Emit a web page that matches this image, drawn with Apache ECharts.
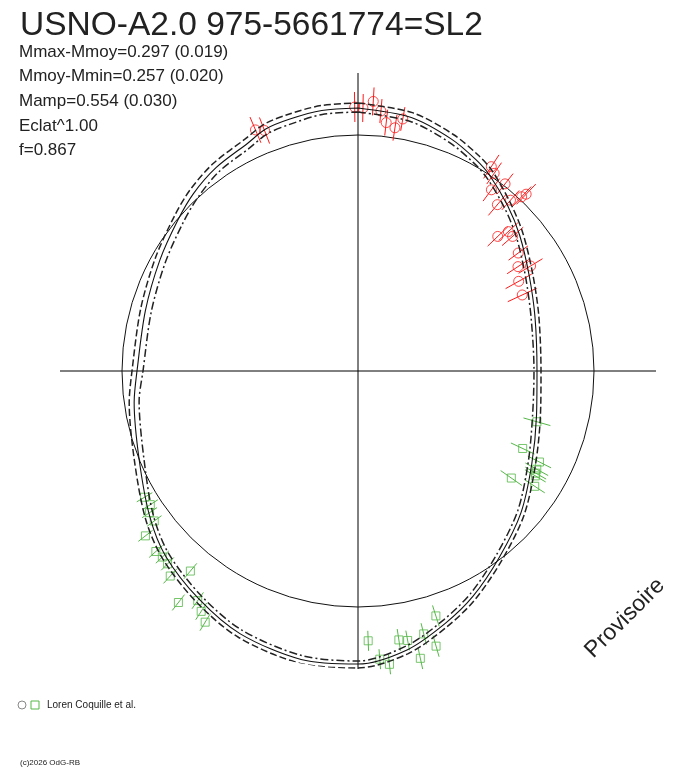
<!DOCTYPE html>
<html>
<head>
<meta charset="utf-8">
<title>USNO-A2.0 975-5661774=SL2</title>
<script src="https://cdn.jsdelivr.net/npm/echarts@6/dist/echarts.min.js"></script>
<style>
	html, body {margin: 0; padding: 0; background: #fff;}
	#chart {width: 688px; height: 768px;}
</style>
</head>
<body>
<div id="chart"></div>
<script>
// phase (0..1, clockwise from top) and radius
const curvePhase = [0.000, 0.033, 0.061, 0.081, 0.094, 0.117, 0.139, 0.169, 0.203, 0.250, 0.289, 0.328,
	0.364, 0.397, 0.425, 0.447, 0.472, 0.500, 0.531, 0.567, 0.597, 0.628, 0.653, 0.689, 0.728, 0.750,
	0.794, 0.831, 0.861, 0.881, 0.903, 0.928, 0.942, 0.958, 0.978];
const curveMid = [263, 259, 250, 242, 236, 223, 211, 196, 185, 179, 184, 197,
	216, 234, 253, 267, 283, 293, 294, 288, 278, 267, 254, 236, 226, 221,
	221, 227, 235, 242, 248, 253, 259, 261, 263];
const curveHigh = [268, 264, 255, 247, 241, 227, 215, 200, 189, 183, 188, 201,
	220, 238, 257, 271, 287, 297, 298, 292, 282, 271, 259, 241, 231, 226,
	226, 232, 240, 247, 253, 258, 264, 266, 268];
const curveLow = [259, 255, 246, 238, 232, 219, 207, 192, 181, 176, 180, 193,
	212, 230, 249, 263, 279, 290, 290, 284, 274, 263, 250, 231, 221, 215,
	215, 221, 229, 236, 243, 248, 254, 256, 259];

// reference circle
const refRadius = 236;

const redPhase = [0.936, 0.941, 0.998, 0.003, 0.009, 0.014, 0.018, 0.024, 0.028, 0.092, 0.096, 0.106, 0.101,
	0.111, 0.116, 0.120, 0.121, 0.128, 0.131, 0.136, 0.149, 0.158, 0.163, 0.169, 0.181];
const redR = [262, 258, 264, 263, 270, 261, 250, 246, 256, 244, 240, 238, 225,
	217, 229, 239, 244, 194, 205, 205, 199, 191, 202, 184, 181];
const redErr = [14, 14, 15, 14, 14, 12, 13, 13, 12, 14, 13, 13, 14,
	14, 13, 14, 14, 14, 13, 14, 12, 13, 14, 15, 16];

const greenPhase = [0.294, 0.320, 0.324, 0.330, 0.333, 0.335, 0.342, 0.347,
	0.451, 0.456, 0.461, 0.466, 0.471, 0.476, 0.483, 0.488, 0.494,
	0.587, 0.592, 0.597, 0.605, 0.611, 0.618, 0.624, 0.629, 0.634, 0.645, 0.649, 0.655, 0.659, 0.665];
const greenR = [186, 182, 203, 204, 205, 206, 211, 187,
	257, 286, 271, 294, 274, 272, 295, 289, 270,
	294, 287, 280, 293, 261, 278, 271, 270, 271, 269, 253, 252, 247, 248];
const greenErr = [14, 13, 13, 13, 12, 12, 12, 13,
	11, 11, 11, 11, 10, 11, 10, 10, 10,
	10, 10, 10, 10, 10, 10, 9, 9, 9, 9, 9, 9, 9, 9];

const infoLines = ['Mmax-Mmoy=0.297 (0.019)', 'Mmoy-Mmin=0.257 (0.020)', 'Mamp=0.554 (0.030)', 'Eclat^1.00', 'f=0.867'];

const RED = '#ff1a1a';
const GREEN = '#55b847';
const FONT = '"Liberation Sans", Arial, sans-serif';

function closed(phases, radii) {
	let out = phases.map((p, i) => [radii[i], p]);
	out.push([radii[0], phases[0] + 1]);
	return out;
}

function points(phases, radii, errs) {
	return phases.map((p, i) => [radii[i], p, errs[i]]);
}

function errorBar(color) {
	return function (params, api) {
		let r = api.value(0), ph = api.value(1), e = api.value(2);
		let a = api.coord([r - e, ph]);
		let b = api.coord([r + e, ph]);
		return {
			type: 'line',
			shape: {x1: a[0], y1: a[1], x2: b[0], y2: b[1]},
			style: {stroke: color, lineWidth: 1}
		};
	};
}

let chart = echarts.init(document.getElementById('chart'), null, {renderer: 'canvas'});

let graphics = [{
	type: 'text', left: 20, top: 9,
	style: {text: 'USNO-A2.0 975-5661774=SL2', font: '33.5px ' + FONT, fill: '#222'}
}];
infoLines.forEach((t, i) => {
	graphics.push({
		type: 'text', x: 19, y: 52 + i * 24.7,
		style: {text: t, font: '17px ' + FONT, fill: '#222', verticalAlign: 'middle'}
	});
});
graphics.push(
	{type: 'text', x: 625, y: 618, rotation: Math.PI / 4,
		style: {text: 'Provisoire', font: '23px ' + FONT, fill: '#222', align: 'center', verticalAlign: 'middle'}},
	{type: 'circle', shape: {cx: 22, cy: 705, r: 4}, style: {fill: 'none', stroke: '#888', lineWidth: 1}},
	{type: 'rect', shape: {x: 31, y: 701, width: 8, height: 8}, style: {fill: 'none', stroke: GREEN, lineWidth: 1}},
	{type: 'text', x: 47, y: 705,
		style: {text: 'Loren Coquille et al.', font: '10px ' + FONT, fill: '#222', verticalAlign: 'middle'}},
	{type: 'text', x: 20, y: 763,
		style: {text: '(c)2026 OdG-RB', font: '8px ' + FONT, fill: '#222', verticalAlign: 'middle'}}
);

let option = {
	backgroundColor: '#fff',
	animation: false,
	polar: {center: [358, 371], radius: 298},
	angleAxis: {
		type: 'value', min: 0, max: 1, interval: 0.25,
		startAngle: 90, clockwise: true,
		axisLine: {show: false}, axisTick: {show: false}, axisLabel: {show: false},
		splitLine: {show: true, lineStyle: {color: '#000', width: 1}}
	},
	radiusAxis: {
		type: 'value', min: 0, max: 298,
		axisLine: {show: false}, axisTick: {show: false}, axisLabel: {show: false},
		splitLine: {show: false}
	},
	graphic: graphics,
	series: [
		{
			type: 'custom', coordinateSystem: 'polar', silent: true,
			data: [[refRadius, 0]],
			renderItem: function (params, api) {
				let c = api.coord([0, 0]);
				let p = api.coord([api.value(0), 0]);
				return {
					type: 'circle',
					shape: {cx: c[0], cy: c[1], r: Math.hypot(p[0] - c[0], p[1] - c[1])},
					style: {fill: 'none', stroke: '#111', lineWidth: 1}
				};
			}
		},
		{
			type: 'line', coordinateSystem: 'polar', symbol: 'none', smooth: 0.3,
			data: closed(curvePhase, curveMid),
			lineStyle: {color: '#111', width: 1.1}
		},
		{
			type: 'line', coordinateSystem: 'polar', symbol: 'none', smooth: 0.3,
			data: closed(curvePhase, curveHigh),
			lineStyle: {color: '#222', width: 1.5, type: [7, 3]}
		},
		{
			type: 'line', coordinateSystem: 'polar', symbol: 'none', smooth: 0.3,
			data: closed(curvePhase, curveLow),
			lineStyle: {color: '#222', width: 1.5, type: [8, 3, 2, 3]}
		},
		{
			type: 'custom', coordinateSystem: 'polar', silent: true,
			data: points(redPhase, redR, redErr),
			renderItem: errorBar(RED)
		},
		{
			type: 'custom', coordinateSystem: 'polar', silent: true,
			data: points(greenPhase, greenR, greenErr),
			renderItem: errorBar(GREEN)
		},
		{
			type: 'scatter', coordinateSystem: 'polar', symbol: 'circle', symbolSize: 10,
			data: redPhase.map((p, i) => [redR[i], p]),
			itemStyle: {color: 'rgba(0,0,0,0)', borderColor: RED, borderWidth: 1}
		},
		{
			type: 'scatter', coordinateSystem: 'polar', symbol: 'rect', symbolSize: 8,
			data: greenPhase.map((p, i) => [greenR[i], p]),
			itemStyle: {color: 'rgba(0,0,0,0)', borderColor: GREEN, borderWidth: 1}
		}
	]
};

chart.setOption(option);
</script>
</body>
</html>
